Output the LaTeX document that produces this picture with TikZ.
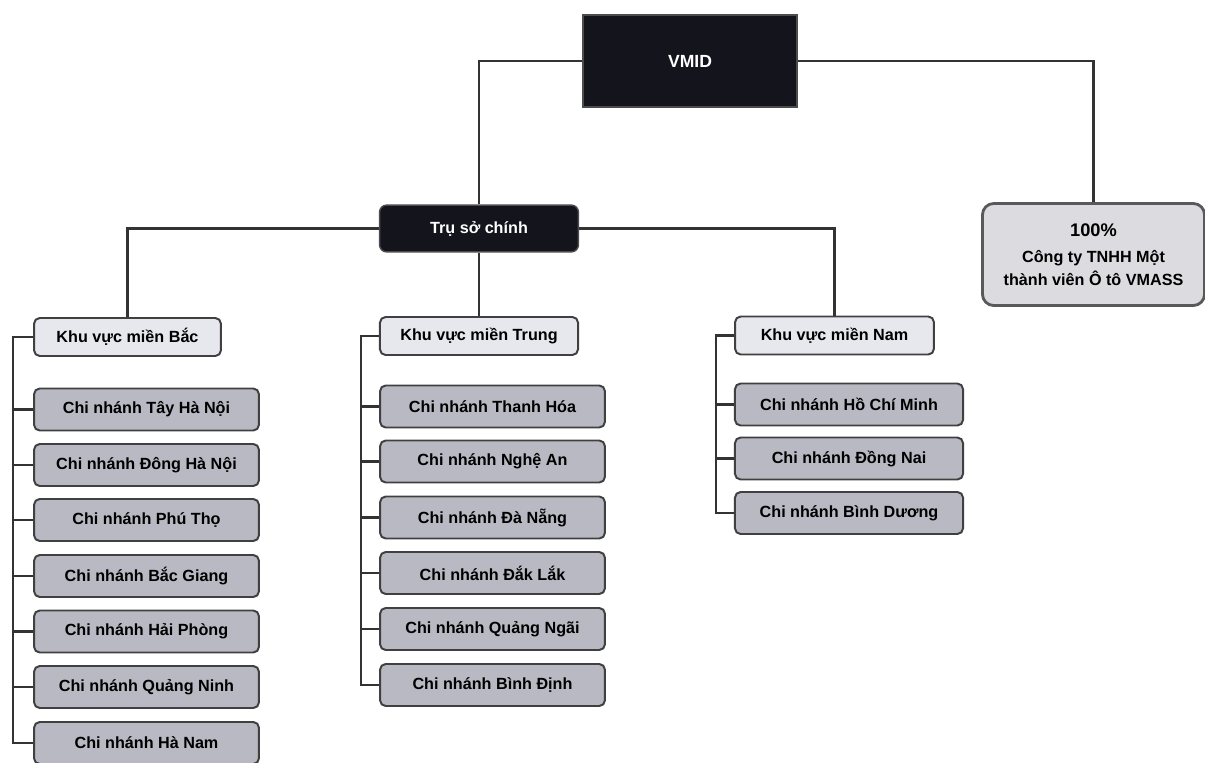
\documentclass[tikz,border=0pt]{standalone}
\usepackage{fontspec}
\setmainfont{Liberation Sans}
\definecolor{boxdark}{HTML}{14141C}
\definecolor{boxgray}{HTML}{B9B9C3}
\definecolor{boxlight}{HTML}{E7E7EE}
\definecolor{subgray}{HTML}{DCDCE0}

\begin{document}
\begin{tikzpicture}[x=0.025cm,y=-0.025cm,
   link/.style={draw=black!80,line width=1.6pt},
   topbox/.style={draw=black!70,fill=boxdark,text=white,line width=1pt,font=\bfseries\fontsize{11.5}{13}\selectfont},
   areabox/.style={draw=black!75,fill=boxlight,rounded corners=4pt,line width=1.4pt,minimum height=0.95cm,font=\bfseries\fontsize{11.5}{13}\selectfont},
   branchbox/.style={draw=black!75,fill=boxgray,rounded corners=4pt,line width=1.4pt,minimum width=5.62cm,minimum height=1.05cm,font=\bfseries\fontsize{11.5}{13}\selectfont}]
   \useasboundingbox (0,0) rectangle (1205,763);
   \node[topbox,minimum width=5.35cm,minimum height=2.3cm,font=\bfseries\fontsize{12.5}{14}\selectfont] (vmid) at (690,61) {VMID};
   \node[topbox,rounded corners=5pt,minimum width=4.97cm,minimum height=1.17cm] (hq) at (479,228.5) {Trụ sở chính};
   \node[draw=black!65,fill=subgray,rounded corners=8pt,line width=2pt,minimum width=5.55cm,minimum height=2.55cm,align=center,font=\bfseries\fontsize{11.5}{16}\selectfont] (sub) at (1093.5,254.5) {{\fontsize{13}{16}\selectfont 100\%}\\[3pt]Công ty TNHH Một\\thành viên Ô tô VMASS};
   \node[areabox,minimum width=4.67cm] (bac) at (127.5,337) {Khu vực miền Bắc};
   \node[areabox,minimum width=4.95cm] (trung) at (479,336) {Khu vực miền Trung};
   \node[areabox,minimum width=4.97cm] (nam) at (834.5,335.5) {Khu vực miền Nam};
   \node[branchbox] (b1) at (146.5,409.5) {Chi nhánh Tây Hà Nội};
   \node[branchbox] (b2) at (146.5,465) {Chi nhánh Đông Hà Nội};
   \node[branchbox] (b3) at (146.5,520) {Chi nhánh Phú Thọ};
   \node[branchbox] (b4) at (146.5,576) {Chi nhánh Bắc Giang};
   \node[branchbox] (b5) at (146.5,631.5) {Chi nhánh Hải Phòng};
   \node[branchbox] (b6) at (146.5,687) {Chi nhánh Quảng Ninh};
   \node[branchbox] (b7) at (146.5,743) {Chi nhánh Hà Nam};
   \node[branchbox] (t1) at (492.5,406.5) {Chi nhánh Thanh Hóa};
   \node[branchbox] (t2) at (492.5,461.5) {Chi nhánh Nghệ An};
   \node[branchbox] (t3) at (492.5,517.5) {Chi nhánh Đà Nẵng};
   \node[branchbox] (t4) at (492.5,573) {Chi nhánh Đắk Lắk};
   \node[branchbox] (t5) at (492.5,629) {Chi nhánh Quảng Ngãi};
   \node[branchbox] (t6) at (492.5,685) {Chi nhánh Bình Định};
   \node[branchbox,minimum width=5.7cm] (n1) at (849,404.5) {Chi nhánh Hồ Chí Minh};
   \node[branchbox,minimum width=5.7cm] (n2) at (849,458.5) {Chi nhánh Đồng Nai};
   \node[branchbox,minimum width=5.7cm] (n3) at (849,513) {Chi nhánh Bình Dương};
   \draw[link] (vmid.west) -| (hq.north);
   \draw[link] (vmid.east) -| (sub.north);
   \draw[link] (hq.west) -| (bac.north);
   \draw[link] (hq.east) -| (nam.north);
   \draw[link] (hq.south) -- (trung.north);
   \draw[link] (bac.west) -- ++(-20,0) coordinate (sb) |- (b7.west);
   \draw[link] (trung.west) -- ++(-18,0) coordinate (st) |- (t6.west);
   \draw[link] (nam.west) -- ++(-18,0) coordinate (sn) |- (n3.west);
   \foreach \i in {1,...,6} \draw[link] (b\i.west) -- (b\i.west -| sb);
   \foreach \i in {1,...,5} \draw[link] (t\i.west) -- (t\i.west -| st);
   \foreach \i in {1,2} \draw[link] (n\i.west) -- (n\i.west -| sn);
\end{tikzpicture}
\end{document}
